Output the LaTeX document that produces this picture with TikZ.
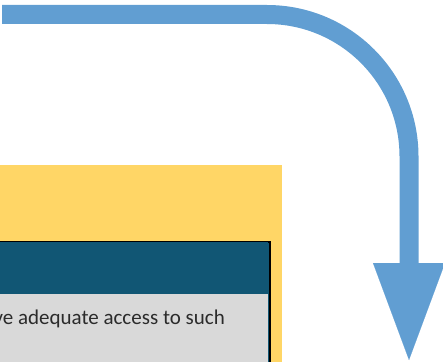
\documentclass[tikz,border=0pt]{standalone}
\usepackage{fontspec}
\setmainfont{Carlito}
\usepackage{tikz}
\usetikzlibrary{arrows.meta, positioning}
\usepackage{xcolor}
\definecolor{cFlow}{HTML}{619ED2}
\definecolor{cPanel}{HTML}{FFD666}
\definecolor{cHead}{HTML}{115674}
\definecolor{cBody}{HTML}{D9D9D9}
\definecolor{cText}{HTML}{2B2B2B}

\begin{document}
\begin{tikzpicture}[x=1pt, y=-1pt,
    panel/.style={
        rectangle, fill=#1, draw=none, inner sep=0pt, anchor=north west
    },
    headbar/.style={
        rectangle, fill=cHead, draw=black, line width=2pt,
        inner sep=0pt, anchor=north west
    },
    bodytext/.style={
        font=\fontsize{21}{25}\selectfont, text=cText, inner sep=0pt
    },
    bigarr/.style={
        line width=19pt, color=cFlow, rounded corners=142pt,
        -{Triangle[width=72pt, length=97pt, line width=0.1pt]}
    },
]
\useasboundingbox (0,0) rectangle (443,361);
\clip (0,0) rectangle (443,361);

% Panel -- yellow frame with header and body
\node[panel=cPanel, minimum width=282pt, minimum height=200pt] (frame) at (0,165) {};
\node[headbar, minimum width=290pt, minimum height=140pt] (box) at (-21,241) {};
\node[panel=cHead, minimum width=288pt, minimum height=51pt] (head) at (-20,242) {};
\node[panel=cBody, minimum width=288pt, minimum height=70pt] (body) at (-20,294) {};
\node[bodytext, anchor=base east] (line) at (225,324) {ve adequate access to such};

% Flow arrow
\coordinate (flowstart) at (2,14.5);
\coordinate (flowend)   at (409,360);
\draw[bigarr] (flowstart) -| (flowend);

\end{tikzpicture}
\end{document}
